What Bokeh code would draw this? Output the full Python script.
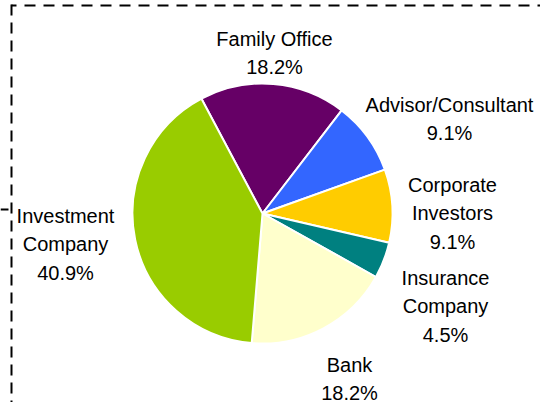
import math
from bokeh.plotting import figure
from bokeh.models import ColumnDataSource, Range1d
from bokeh.core.properties import value
from bokeh.embed import file_html
from bokeh.resources import INLINE

# ---- data ----
categories = ["Family Office", "Advisor/Consultant", "Corporate Investors",
              "Insurance Company", "Bank", "Investment Company"]
shares = [18.2, 9.1, 9.1, 4.5, 18.2, 40.9]
label_lines = [["Family Office"], ["Advisor/Consultant"], ["Corporate", "Investors"],
               ["Insurance", "Company"], ["Bank"], ["Investment", "Company"]]
colors = ["#660066", "#3366FF", "#FFCC00", "#008080", "#FFFFCC", "#99CC00"]

# ---- layout (picture pixels) ----
W, H = 540, 402
def dx(px): return px
def dy(py): return H - py

cx, cy, R = 262, 213, 130
first_slice_clock = -28.0   # degrees clockwise from 12 o'clock
label_pos = [(274, 38), (449, 104), (452, 184), (445, 277), (349, 364), (65, 215)]
line_step = 28.8
FONT = value("Liberation Sans")

p = figure(width=W, height=H, output_backend="svg", toolbar_location=None,
           x_range=Range1d(0, W), y_range=Range1d(0, H), min_border=0)
p.axis.visible = False
p.grid.visible = False
p.outline_line_color = None
p.background_fill_color = "white"
p.border_fill_color = "white"

total = sum(shares)
starts, ends = [], []
cum = first_slice_clock
for s in shares:
    a0 = cum
    a1 = cum + s / total * 360.0
    cum = a1
    starts.append(math.radians(90 - a1))
    ends.append(math.radians(90 - a0))

src = ColumnDataSource(dict(start=starts, end=ends, color=colors, cat=categories))
p.wedge(x=dx(cx), y=dy(cy), radius=R, start_angle="start", end_angle="end",
        fill_color="color", line_color="white", line_width=2, source=src)

# dashed frame (top and left edges visible)
p.line([dx(11), dx(545)], [dy(5), dy(5)], line_color="black", line_width=2,
       line_dash="11 8", line_dash_offset=6)
p.line([dx(11), dx(11)], [dy(4), dy(410)], line_color="black", line_width=2,
       line_dash="11 7")
p.line([dx(0), dx(8)], [dy(209), dy(209)], line_color="black", line_width=2)

# labels
tx, ty, tt = [], [], []
for lines, s, (lx, ly) in zip(label_lines, shares, label_pos):
    allines = lines + [f"{s:.1f}%"]
    for i, t in enumerate(allines):
        tx.append(dx(lx))
        ty.append(dy(ly + i * (line_step if len(allines) > 2 or ly < 300 else 28.0)))
        tt.append(t)
p.text(x=tx, y=ty, text=tt, text_align="center", text_baseline="alphabetic",
       text_font=FONT, text_font_size="20px", text_color="#000000")

open("out.html", "w").write(file_html(p, INLINE))
